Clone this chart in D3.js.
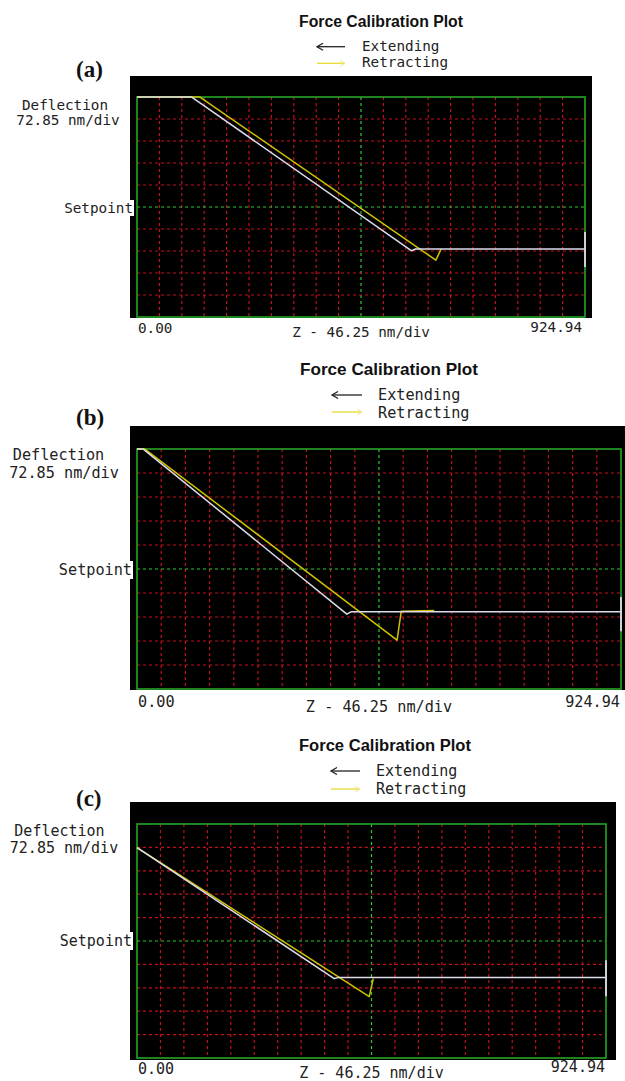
<!DOCTYPE html>
<html><head><meta charset="utf-8">
<script src="https://cdn.jsdelivr.net/npm/d3@7"></script>
<style>body{margin:0;background:#fff}svg{display:block}</style>
</head><body><svg id="c" width="625" height="1081"></svg>
<script>
// ---------- data ----------
const X_MAX = 924.94;          // nm, full Z range
const X_DIV = 46.25;           // nm per division (Z)
const Y_DIV = 72.85;           // nm per division (deflection)
const X_DIVS = 20, Y_DIVS = 10;
const title = "Force Calibration Plot";
const panelNames = ["(a)", "(b)", "(c)"];
const legendLabels = ["Extending", "Retracting"];
const yLabels = ["Deflection", "72.85 nm/div", "Setpoint"];
const xTickLabels = ["0.00", "Z - 46.25 nm/div", "924.94"];

// points: [Z (nm), deflection relative to setpoint (nm)]
const extendA  = [[0,364],[113,364],[567,-145],[575,-139],[924.94,-139]];
const retractA = [[0,364],[130,364],[617,-176],[628,-139]];
const endA     = [[924.94,-83],[924.94,-199]];

const extendB  = [[0,364],[12,364],[401,-137],[409,-130],[924.94,-130]];
const retractB = [[0,364],[15,364],[497,-216],[505,-128],[568,-126]];
const endB     = [[924.94,-85],[924.94,-189]];

const extendC  = [[0,291],[389,-117],[397,-114],[924.94,-114]];
const retractC = [[0,291],[458,-173],[466,-117]];
const endC     = [[924.94,-60],[924.94,-172]];

// ---------- layout ----------
const layout = [
  {black:[130,76,592,318], frame:[137,97,585,317], fs:14.3, tfs:16, title:[381,26.5,164],
   arrowX:[317,345], arrowY:[46.7,63.3], legX:362, legY:[50.7,66.7], lab:[76,77],
   defl:[65,110,68,125], setX:133, setY:213, bot:[333,337,332], botL:138, botR:582},
  {black:[130,426,628,690], frame:[137,449,621,689], fs:15.2, tfs:17.3, title:[389,375,178],
   arrowX:[332,362], arrowY:[395,412], legX:378, legY:[400,418], lab:[76,425],
   defl:[58.5,460,64,478], setX:132, setY:575, bot:[707,712,707], botL:138, botR:620},
  {black:[130,802,616,1060], frame:[137,824,606,1058], fs:15.0, tfs:16.8, title:[385,750.7,172],
   arrowX:[331,360], arrowY:[771,789], legX:376, legY:[776,794], lab:[76,806],
   defl:[59.5,836,64,853], setX:132, setY:946, bot:[1074,1078,1072], botL:138, botR:605}
];
const series = [
  {ext:extendA, ret:retractA, end:endA},
  {ext:extendB, ret:retractB, end:endB},
  {ext:extendC, ret:retractC, end:endC}
];

const svg = d3.select("#c");
const MONO = "'DejaVu Sans Mono', monospace";
const COL_EXT = "#dcdcec", COL_RET = "#cfc200";

layout.forEach((L, i) => {
  const g = svg.append("g");
  const [fx0, fy0, fx1, fy1] = L.frame;
  const x = d3.scaleLinear().domain([0, X_MAX]).range([fx0, fx1]);
  const y = d3.scaleLinear().domain([-5*Y_DIV, 5*Y_DIV]).range([fy1, fy0]);

  // title
  g.append("text").attr("x", L.title[0]).attr("y", L.title[1])
    .attr("text-anchor", "middle")
    .attr("font-family", "'Liberation Sans', Arial, sans-serif")
    .attr("font-weight", "bold").attr("font-size", L.tfs)
    .attr("textLength", L.title[2]).attr("lengthAdjust", "spacingAndGlyphs")
    .attr("fill", "#111").text(title);

  // legend
  const [ax0, ax1] = L.arrowX;
  g.append("line").attr("x1", ax0).attr("x2", ax1).attr("y1", L.arrowY[0]).attr("y2", L.arrowY[0])
    .attr("stroke", "#222").attr("stroke-width", 1.3);
  g.append("path").attr("d", `M${ax0+6},${L.arrowY[0]-3.5}L${ax0},${L.arrowY[0]}L${ax0+6},${L.arrowY[0]+3.5}`)
    .attr("fill", "none").attr("stroke", "#222").attr("stroke-width", 1.3);
  g.append("line").attr("x1", ax0).attr("x2", ax1).attr("y1", L.arrowY[1]).attr("y2", L.arrowY[1])
    .attr("stroke", "#e6dc30").attr("stroke-width", 1.3);
  g.append("path").attr("d", `M${ax1-5},${L.arrowY[1]-3}L${ax1},${L.arrowY[1]}L${ax1-5},${L.arrowY[1]+3}`)
    .attr("fill", "none").attr("stroke", "#eee890").attr("stroke-width", 1);
  legendLabels.forEach((t, k) => {
    g.append("text").attr("x", L.legX).attr("y", L.legY[k])
      .attr("font-family", MONO).attr("font-size", L.fs).attr("fill", "#222").text(t);
  });

  // panel label
  g.append("text").attr("x", L.lab[0]).attr("y", L.lab[1])
    .attr("font-family", "'Liberation Serif', 'Times New Roman', serif")
    .attr("font-weight", "bold").attr("font-size", 23).attr("fill", "#111").text(panelNames[i]);

  // black background
  const [bx0, by0, bx1, by1] = L.black;
  g.append("rect").attr("x", bx0).attr("y", by0).attr("width", bx1-bx0).attr("height", by1-by0)
    .attr("fill", "#000");

  // grid
  const xGrid = d3.range(1, X_DIVS).map(k => k * X_MAX / X_DIVS);
  const yGrid = d3.range(1, Y_DIVS).map(k => -5*Y_DIV + k * Y_DIV);
  g.append("g").selectAll("line").data(xGrid).join("line")
    .attr("x1", d => x(d)).attr("x2", d => x(d)).attr("y1", fy0).attr("y2", fy1)
    .attr("stroke", (d, k) => k === X_DIVS/2 - 1 ? "#2cc82c" : "#c0101c")
    .attr("stroke-width", 1.2).attr("stroke-dasharray", "3,3");
  g.append("g").selectAll("line").data(yGrid).join("line")
    .attr("y1", d => y(d)).attr("y2", d => y(d)).attr("x1", fx0).attr("x2", fx1)
    .attr("stroke", (d, k) => k === Y_DIVS/2 - 1 ? "#2cc82c" : "#c0101c")
    .attr("stroke-width", 1.2).attr("stroke-dasharray", "3,3");

  // frame
  g.append("rect").attr("x", fx0).attr("y", fy0).attr("width", fx1-fx0).attr("height", fy1-fy0)
    .attr("fill", "none").attr("stroke", "#26a626").attr("stroke-width", 1.6);

  // curves
  const line = d3.line().x(d => x(d[0])).y(d => y(d[1]));
  const S = series[i];
  g.append("path").attr("d", line(S.ret)).attr("fill", "none")
    .attr("stroke", COL_RET).attr("stroke-width", 1.5).attr("stroke-linejoin", "round");
  g.append("path").attr("d", line(S.ext)).attr("fill", "none")
    .attr("stroke", COL_EXT).attr("stroke-width", 1.5).attr("stroke-linejoin", "round");
  g.append("path").attr("d", line(S.end)).attr("fill", "none")
    .attr("stroke", COL_EXT).attr("stroke-width", 1.8);

  // y labels
  g.append("text").attr("x", L.defl[0]).attr("y", L.defl[1]).attr("text-anchor", "middle")
    .attr("font-family", MONO).attr("font-size", L.fs).attr("fill", "#222").text(yLabels[0]);
  g.append("text").attr("x", L.defl[2]).attr("y", L.defl[3]).attr("text-anchor", "middle")
    .attr("font-family", MONO).attr("font-size", L.fs).attr("fill", "#222").text(yLabels[1]);
  const sp = g.append("text").attr("x", L.setX).attr("y", L.setY).attr("text-anchor", "end")
    .attr("font-family", MONO).attr("font-size", L.fs).attr("fill", "#222").text(yLabels[2]);
  const bb = sp.node().getBBox();
  g.insert("rect", () => sp.node()).attr("x", bb.x - 1).attr("y", bb.y)
    .attr("width", bb.width + 2).attr("height", bb.height).attr("fill", "#fff");

  // x labels
  g.append("text").attr("x", L.botL).attr("y", L.bot[0]).attr("text-anchor", "start")
    .attr("font-family", MONO).attr("font-size", L.fs).attr("fill", "#222").text(xTickLabels[0]);
  g.append("text").attr("x", (fx0 + fx1) / 2).attr("y", L.bot[1]).attr("text-anchor", "middle")
    .attr("font-family", MONO).attr("font-size", L.fs).attr("fill", "#222").text(xTickLabels[1]);
  g.append("text").attr("x", L.botR).attr("y", L.bot[2]).attr("text-anchor", "end")
    .attr("font-family", MONO).attr("font-size", L.fs).attr("fill", "#222").text(xTickLabels[2]);
});
</script></body></html>
